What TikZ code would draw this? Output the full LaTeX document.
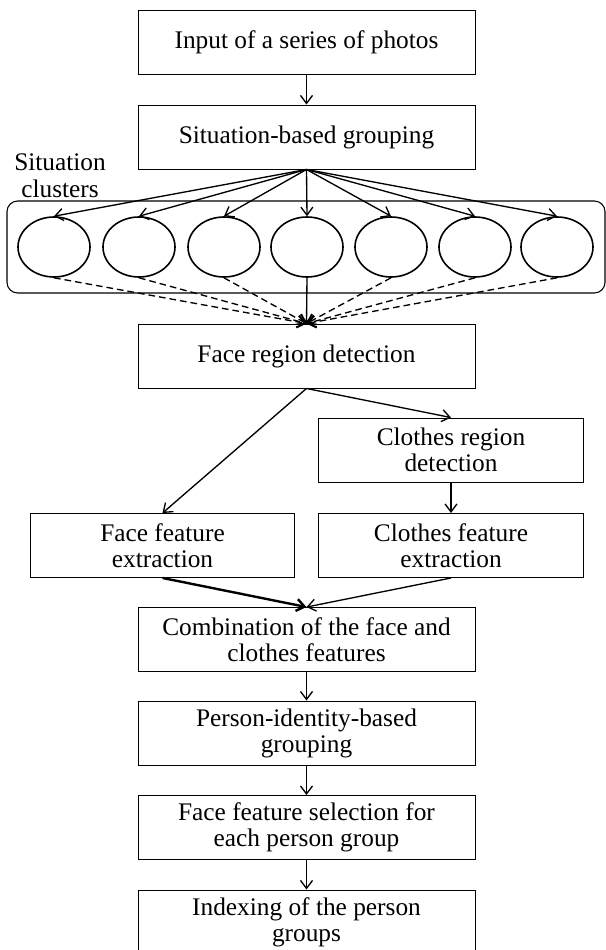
\documentclass[tikz,border=0pt]{standalone}
\usepackage{fontspec}
\setmainfont{Liberation Serif}
\usetikzlibrary{shapes.geometric}
\usetikzlibrary{arrows.meta}

\begin{document}
\begin{tikzpicture}[x=0.75pt, y=-0.75pt, >={Straight Barb[length=6pt, width=9pt]},
    stage/.style={draw, line width=0.7pt, minimum width=252.75pt, minimum height=48pt,
        inner sep=0pt, align=center, font=\fontsize{19}{19.5}\selectfont},
    halfstage/.style={stage, minimum width=198.5pt},
    cluster/.style={draw, line width=1.2pt, ellipse, minimum width=54pt, minimum height=45pt, inner sep=0pt},
    flow/.style={->, line width=1pt},
    dashflow/.style={flow, dash pattern=on 5pt off 3pt}]
\useasboundingbox (0, 0) rectangle (606, 950);

\node[stage] (input) at (306.5, 42) {Input of a series of photos};
\node[stage] (situ) at (306.5, 137) {Situation-based grouping};
\node[align=center, font=\fontsize{19}{20}\selectfont] (label) at (60, 176) {Situation\\clusters};
\draw [line width=0.8pt, rounded corners=8pt] (7, 201) rectangle (605, 293);

\node[cluster] (c1) at (54, 247) {};
\node[cluster] (c2) at (139, 247) {};
\node[cluster] (c3) at (224, 247) {};
\node[cluster] (c4) at (307, 247) {};
\node[cluster] (c5) at (391, 247) {};
\node[cluster] (c6) at (475, 247) {};
\node[cluster] (c7) at (557, 247) {};

\node[stage] (facereg) at (306.5, 356) {Face region detection};
\node[halfstage] (clothreg) at (451, 450) {Clothes region\\detection};
\node[halfstage] (facefeat) at (162.5, 545.5) {Face feature\\extraction};
\node[halfstage] (clothfeat) at (451, 545.5) {Clothes feature\\extraction};
\node[stage] (combo) at (306.5, 639.5) {Combination of the face and\\clothes features};
\node[stage] (person) at (306.5, 733) {Person-identity-based\\grouping};
\node[stage] (select) at (306.5, 827.5) {Face feature selection for\\each person group};
\node[stage] (index) at (306.5, 922) {Indexing of the person\\groups};

\draw [flow] (input) -- (situ);
\draw [flow] (situ.south) -- (c1.north);
\draw [flow] (situ.south) -- (c2.north);
\draw [flow] (situ.south) -- (c3.north);
\draw [flow] (situ.south) -- (c4.north);
\draw [flow] (situ.south) -- (c5.north);
\draw [flow] (situ.south) -- (c6.north);
\draw [flow] (situ.south) -- (c7.north);

\draw [dashflow] (c1.south) -- (facereg.north);
\draw [dashflow] (c2.south) -- (facereg.north);
\draw [dashflow] (c3.south) -- (facereg.north);
\draw [flow] (c4.south) -- (facereg.north);
\draw [dashflow] (c5.south) -- (facereg.north);
\draw [dashflow] (c6.south) -- (facereg.north);
\draw [dashflow] (c7.south) -- (facereg.north);

\draw [flow] (facereg.south) -- (facefeat.north);
\draw [flow] (facereg.south) -- (clothreg.north);
\draw [flow] (clothreg) -- (clothfeat);
\draw [flow, line width=1.8pt] (facefeat.south) -- (combo.north);
\draw [flow] (clothfeat.south) -- (combo.north);
\draw [flow] (combo) -- (person);
\draw [flow] (person) -- (select);
\draw [flow] (select) -- (index);
\end{tikzpicture}
\end{document}
